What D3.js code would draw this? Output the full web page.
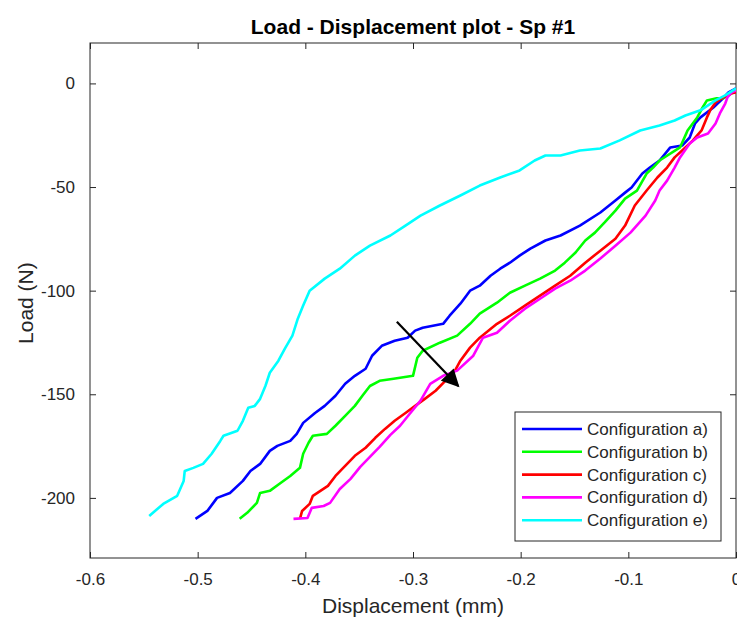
<!DOCTYPE html>
<html lang="en">
<head>
<meta charset="UTF-8">
<title>Load - Displacement plot - Sp #1</title>
<script src="https://cdn.jsdelivr.net/npm/d3@7"></script>
<style>
  body { margin: 0; background: #fff; }
  text { font-family: "Liberation Sans", Arial, sans-serif; fill: #262626; }
</style>
</head>
<body>
<script>
// displacement (mm), load (N) pairs
var configA = [[-0.502,-210.1],[-0.491,-206.3],[-0.482,-200.0],[-0.470,-197.6],[-0.458,-191.8],[-0.451,-187.0],[-0.442,-183.6],[-0.433,-177.3],[-0.426,-174.9],[-0.414,-172.5],[-0.408,-169.1],[-0.402,-163.8],[-0.391,-159.0],[-0.382,-155.6],[-0.372,-150.7],[-0.363,-144.9],[-0.354,-141.1],[-0.344,-137.7],[-0.338,-131.4],[-0.329,-126.6],[-0.317,-124.2],[-0.305,-122.7],[-0.298,-119.3],[-0.291,-117.9],[-0.272,-116.0],[-0.266,-112.1],[-0.256,-106.3],[-0.247,-100.0],[-0.238,-97.6],[-0.228,-92.8],[-0.219,-89.4],[-0.210,-86.5],[-0.201,-83.1],[-0.191,-79.7],[-0.177,-75.8],[-0.163,-73.4],[-0.145,-68.6],[-0.126,-62.3],[-0.112,-56.5],[-0.103,-52.7],[-0.097,-50.2],[-0.087,-43.5],[-0.080,-40.6],[-0.071,-37.2],[-0.061,-30.9],[-0.050,-30.0],[-0.043,-26.1],[-0.038,-19.3],[-0.033,-16.4],[-0.021,-11.6],[-0.012,-7.2],[-0.007,-4.3],[0,-2.4]];
var configB = [[-0.461,-210.1],[-0.454,-207.2],[-0.445,-202.4],[-0.442,-197.6],[-0.433,-196.6],[-0.423,-192.8],[-0.414,-189.4],[-0.405,-185.5],[-0.402,-178.7],[-0.397,-173.4],[-0.393,-170.0],[-0.380,-169.1],[-0.372,-165.2],[-0.363,-160.4],[-0.354,-155.6],[-0.347,-150.7],[-0.340,-146.0],[-0.331,-143.5],[-0.318,-142.5],[-0.300,-141.1],[-0.296,-132.4],[-0.291,-129.0],[-0.275,-125.1],[-0.259,-121.7],[-0.247,-116.0],[-0.238,-111.1],[-0.222,-105.8],[-0.210,-101.0],[-0.196,-97.6],[-0.182,-94.2],[-0.168,-90.3],[-0.159,-86.5],[-0.149,-81.6],[-0.140,-75.8],[-0.131,-72.0],[-0.122,-67.1],[-0.112,-61.4],[-0.103,-55.6],[-0.092,-51.7],[-0.083,-43.5],[-0.077,-40.6],[-0.071,-37.2],[-0.052,-30.9],[-0.049,-27.5],[-0.045,-22.7],[-0.036,-16.4],[-0.031,-11.6],[-0.027,-8.2],[-0.018,-7.2],[-0.012,-7.2],[-0.007,-5.8],[0,-3.4]];
var configC = [[-0.405,-210.1],[-0.403,-206.3],[-0.396,-202.9],[-0.393,-199.0],[-0.386,-196.6],[-0.379,-194.2],[-0.372,-189.4],[-0.363,-184.5],[-0.354,-179.7],[-0.344,-175.8],[-0.335,-171.0],[-0.326,-166.7],[-0.317,-162.8],[-0.307,-159.0],[-0.298,-155.6],[-0.289,-152.2],[-0.279,-148.3],[-0.270,-143.5],[-0.261,-138.6],[-0.256,-133.8],[-0.247,-127.5],[-0.238,-122.7],[-0.222,-116.0],[-0.210,-112.1],[-0.196,-107.2],[-0.182,-102.4],[-0.168,-97.6],[-0.154,-92.8],[-0.140,-86.5],[-0.126,-80.7],[-0.112,-75.0],[-0.103,-68.6],[-0.094,-58.9],[-0.083,-51.7],[-0.073,-45.4],[-0.064,-40.6],[-0.057,-35.7],[-0.047,-30.9],[-0.040,-27.5],[-0.032,-22.7],[-0.027,-16.4],[-0.024,-13.0],[-0.019,-9.2],[-0.012,-6.8],[-0.004,-4.8],[0,-4.3]];
var configD = [[-0.411,-210.1],[-0.398,-209.7],[-0.394,-204.8],[-0.383,-203.9],[-0.377,-202.4],[-0.368,-195.7],[-0.358,-190.8],[-0.349,-185.0],[-0.340,-180.2],[-0.331,-175.4],[-0.321,-169.6],[-0.312,-165.2],[-0.303,-159.4],[-0.293,-153.1],[-0.284,-145.0],[-0.272,-141.1],[-0.259,-138.6],[-0.244,-131.4],[-0.235,-122.7],[-0.222,-120.3],[-0.210,-114.5],[-0.196,-108.7],[-0.182,-103.9],[-0.168,-99.0],[-0.154,-95.2],[-0.140,-90.3],[-0.126,-84.5],[-0.112,-78.3],[-0.098,-72.0],[-0.084,-63.8],[-0.075,-56.5],[-0.071,-51.7],[-0.064,-46.9],[-0.057,-40.6],[-0.052,-35.7],[-0.043,-29.0],[-0.036,-26.1],[-0.026,-24.2],[-0.019,-19.3],[-0.015,-14.5],[-0.010,-9.7],[-0.008,-6.8],[-0.004,-4.3],[0,-3.4]];
var configE = [[-0.545,-208.7],[-0.532,-202.9],[-0.519,-199.0],[-0.513,-191.8],[-0.512,-187.0],[-0.504,-185.5],[-0.495,-183.6],[-0.487,-178.7],[-0.479,-172.5],[-0.476,-170.0],[-0.463,-167.6],[-0.458,-162.8],[-0.453,-156.5],[-0.447,-155.6],[-0.442,-152.2],[-0.437,-145.9],[-0.433,-139.6],[-0.425,-133.8],[-0.419,-128.0],[-0.412,-121.7],[-0.407,-113.5],[-0.402,-107.2],[-0.396,-100.0],[-0.382,-94.2],[-0.368,-89.4],[-0.354,-83.1],[-0.340,-78.3],[-0.321,-73.4],[-0.307,-68.6],[-0.293,-63.8],[-0.275,-58.9],[-0.256,-54.1],[-0.238,-49.3],[-0.219,-45.4],[-0.201,-42.0],[-0.187,-37.2],[-0.177,-34.8],[-0.163,-34.8],[-0.145,-32.4],[-0.126,-31.4],[-0.108,-27.5],[-0.089,-22.7],[-0.071,-20.3],[-0.057,-17.9],[-0.047,-15.5],[-0.033,-13.0],[-0.019,-8.2],[-0.010,-5.8],[0,-2.4]];

var seriesNames = ["Configuration a)", "Configuration b)", "Configuration c)", "Configuration d)", "Configuration e)"];
var seriesColors = ["#0000ff", "#00ff00", "#ff0000", "#ff00ff", "#00ffff"];
var seriesData = [configA, configB, configC, configD, configE];

var xTicks = [-0.6, -0.5, -0.4, -0.3, -0.2, -0.1, 0];
var yTicks = [0, -50, -100, -150, -200];
var arrowFrom = [-0.315, -115], arrowTo = [-0.258, -146];

var W = 737, H = 619;
var margin = { top: 43, left: 90, bottom: 61, right: 1 };
var width = W - margin.left - margin.right;
var height = H - margin.top - margin.bottom;

var x = d3.scaleLinear().domain([-0.6, 0]).range([0, width]);
var y = d3.scaleLinear().domain([-229, 19.5]).range([height, 0]);

// plain hyphen minus like matlab
var fmt = function(d){ return String(d); };

var svg = d3.select("body").append("svg")
  .attr("width", W).attr("height", H);

var defs = svg.append("defs");
defs.append("clipPath").attr("id", "clip")
  .append("rect").attr("width", width).attr("height", height);
defs.append("marker")
  .attr("id", "head").attr("viewBox", "0 0 10 10")
  .attr("refX", 9).attr("refY", 5)
  .attr("markerWidth", 8.5).attr("markerHeight", 8)
  .attr("markerUnits", "strokeWidth")
  .attr("orient", "auto")
  .append("path").attr("d", "M0,0 L10,5 L0,10 Z").attr("fill", "#000");

var g = svg.append("g")
  .attr("transform", "translate(" + margin.left + "," + margin.top + ")");

// title
svg.append("text")
  .attr("x", margin.left + width / 2).attr("y", 34)
  .attr("text-anchor", "middle")
  .style("font-size", "21px").style("font-weight", "bold")
  .style("fill", "#000")
  .text("Load - Displacement plot - Sp #1");

// axes, ticks pointing inwards like matlab
function styleAxis(sel) {
  sel.select(".domain").remove();
  sel.selectAll("line").attr("stroke", "#262626");
  sel.selectAll("text").style("font-size", "17px").style("fill", "#262626");
}

g.append("g").attr("transform", "translate(0," + height + ")")
  .call(d3.axisBottom(x).tickValues(xTicks).tickSize(-6).tickPadding(15).tickFormat(fmt))
  .call(styleAxis);
g.append("g")
  .call(d3.axisTop(x).tickValues(xTicks).tickSize(-6).tickFormat(""))
  .call(styleAxis);
g.append("g")
  .call(d3.axisLeft(y).tickValues(yTicks).tickSize(-6).tickPadding(15).tickFormat(fmt))
  .call(styleAxis);
g.append("g").attr("transform", "translate(" + width + ",0)")
  .call(d3.axisRight(y).tickValues(yTicks).tickSize(-6).tickFormat(""))
  .call(styleAxis);

g.selectAll(".tick text").style("font-family", "'Liberation Sans', Arial, sans-serif");

// box
g.append("rect")
  .attr("width", width).attr("height", height)
  .attr("fill", "none").attr("stroke", "#262626").attr("stroke-width", 1);

// axis labels
svg.append("text")
  .attr("x", margin.left + width / 2).attr("y", 613)
  .attr("text-anchor", "middle").style("font-size", "21px")
  .text("Displacement (mm)");
svg.append("text")
  .attr("transform", "translate(33," + (margin.top + y(-106)) + ") rotate(-90)")
  .attr("text-anchor", "middle").style("font-size", "21px")
  .text("Load (N)");

// curves
var line = d3.line().x(function(d){ return x(d[0]); }).y(function(d){ return y(d[1]); });
var plot = g.append("g").attr("clip-path", "url(#clip)");

plot.selectAll("path.curve")
  .data(seriesData)
  .enter().append("path")
  .attr("class", "curve")
  .attr("d", line)
  .attr("fill", "none")
  .attr("stroke", function(d, i){ return seriesColors[i]; })
  .attr("stroke-width", 2.6)
  .attr("stroke-linejoin", "round");

// arrow
plot.append("line")
  .attr("x1", x(arrowFrom[0])).attr("y1", y(arrowFrom[1]))
  .attr("x2", x(arrowTo[0])).attr("y2", y(arrowTo[1]))
  .attr("stroke", "#000").attr("stroke-width", 2.2)
  .attr("marker-end", "url(#head)");

// legend
var lg = svg.append("g").attr("transform", "translate(515,412)");
lg.append("rect")
  .attr("width", 206).attr("height", 129)
  .attr("fill", "#fff").attr("stroke", "#262626").attr("stroke-width", 1);

var row = lg.selectAll("g.row")
  .data(seriesNames)
  .enter().append("g").attr("class", "row")
  .attr("transform", function(d, i){ return "translate(0," + (17 + i * 22.8) + ")"; });
row.append("line")
  .attr("x1", 7).attr("x2", 67)
  .attr("stroke", function(d, i){ return seriesColors[i]; })
  .attr("stroke-width", 2.6);
row.append("text")
  .attr("x", 72).attr("y", 6)
  .style("font-size", "17px")
  .text(function(d){ return d; });
</script>
</body>
</html>
